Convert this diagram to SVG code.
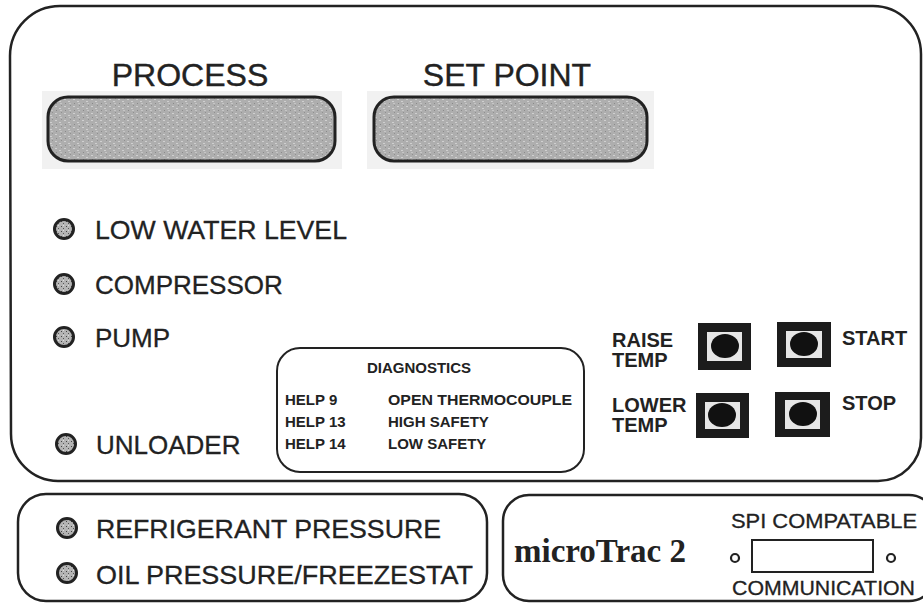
<svg xmlns="http://www.w3.org/2000/svg" width="923" height="605" viewBox="0 0 923 605">
<defs>
<pattern id="speckle" width="9" height="7" patternUnits="userSpaceOnUse">
<rect width="9" height="7" fill="#aeaeae"/>
<rect x="1" y="1" width="2" height="1" fill="#d0d0d0"/>
<rect x="5" y="3" width="2" height="1" fill="#cfcfcf"/>
<rect x="2" y="5" width="1" height="1" fill="#8a8a8a"/>
<rect x="7" y="0" width="1" height="1" fill="#909090"/>
<rect x="6" y="5" width="2" height="1" fill="#c6c6c6"/>
</pattern>
<pattern id="ledtex" width="5" height="5" patternUnits="userSpaceOnUse">
<rect width="5" height="5" fill="#b4b4b4"/>
<rect x="1" y="1" width="1" height="1" fill="#444"/>
<rect x="3" y="3" width="1" height="1" fill="#555"/>
<rect x="3" y="0" width="1" height="1" fill="#ddd"/>
</pattern>
</defs>
<style>
.frame{fill:none;stroke:#222;stroke-width:2.5}
.disp{fill:url(#speckle);stroke:#222;stroke-width:3}
.halo{fill:#f1f1f1}
.led{fill:url(#ledtex);stroke:#222;stroke-width:3}
.big{font-family:"Liberation Sans",Arial,sans-serif;font-size:26px;fill:#222;stroke:#222;stroke-width:0.3}
.title{font-family:"Liberation Sans",Arial,sans-serif;font-size:32px;fill:#222;stroke:#222;stroke-width:0.4}
.diag{font-family:"Liberation Sans",Arial,sans-serif;font-size:15px;font-weight:bold;fill:#222}
.btnl{font-family:"Liberation Sans",Arial,sans-serif;font-size:20px;font-weight:bold;fill:#222}
.small{font-family:"Liberation Sans",Arial,sans-serif;font-size:21px;fill:#222;stroke:#222;stroke-width:0.3}
.brand{font-family:"Liberation Serif","Times New Roman",serif;font-size:34px;font-weight:bold;fill:#222}
.btn{fill:#1c1c1c}
.btnin{fill:#e6e6e6}
.knob{fill:#111}
</style>
<rect width="923" height="605" fill="#fff"/>
<g id="main-panel">
<path class="frame" d="M10,56 A50,50 0 0 1 60,6 L873,6 A48,48 0 0 1 921,54 L921,438 A43,43 0 0 1 878,481 L58,481 A47,47 0 0 1 11,434 Z"/>
</g>
<g id="process">
<rect class="halo" x="42" y="91" width="300" height="78"/>
<text class="title" x="190" y="86" text-anchor="middle">PROCESS</text>
<rect class="disp" x="48" y="97" width="287" height="64" rx="20"/>
</g>
<g id="set-point">
<rect class="halo" x="367" y="91" width="287" height="78"/>
<text class="title" x="507" y="86" text-anchor="middle">SET POINT</text>
<rect class="disp" x="374" y="97" width="273" height="64" rx="20"/>
</g>
<g id="low-water-level">
<circle class="led" cx="64" cy="229" r="9.5"/>
<text class="big" x="95" y="239" textLength="252" lengthAdjust="spacingAndGlyphs">LOW WATER LEVEL</text>
</g>
<g id="compressor">
<circle class="led" cx="64" cy="284" r="9.5"/>
<text class="big" x="95" y="294">COMPRESSOR</text>
</g>
<g id="pump">
<circle class="led" cx="64" cy="337" r="9.5"/>
<text class="big" x="95" y="347">PUMP</text>
</g>
<g id="unloader">
<circle class="led" cx="66" cy="444" r="9.5"/>
<text class="big" x="96" y="454">UNLOADER</text>
</g>
<g id="diagnostics">
<rect class="frame" x="277" y="348" width="307" height="124" rx="23" style="stroke-width:2"/>
<text class="diag" x="419" y="373" text-anchor="middle">DIAGNOSTICS</text>
<text class="diag" x="285" y="405">HELP 9</text>
<text class="diag" x="388" y="405" textLength="184" lengthAdjust="spacingAndGlyphs">OPEN THERMOCOUPLE</text>
<text class="diag" x="285" y="427">HELP 13</text>
<text class="diag" x="388" y="427">HIGH SAFETY</text>
<text class="diag" x="285" y="449">HELP 14</text>
<text class="diag" x="388" y="449">LOW SAFETY</text>
</g>
<g id="raise-temp">
<text class="btnl" x="612" y="347">RAISE</text>
<text class="btnl" x="612" y="367">TEMP</text>
<rect class="btn" x="698" y="323" width="53" height="47"/>
<rect class="btnin" x="707" y="332" width="35" height="29"/>
<ellipse class="knob" cx="725" cy="346" rx="14" ry="12"/>
</g>
<g id="start">
<rect class="btn" x="777" y="322" width="54" height="45"/>
<rect class="btnin" x="786" y="331" width="36" height="27"/>
<ellipse class="knob" cx="804" cy="344" rx="14" ry="12"/>
<text class="btnl" x="842" y="345">START</text>
</g>
<g id="lower-temp">
<text class="btnl" x="612" y="412">LOWER</text>
<text class="btnl" x="612" y="432">TEMP</text>
<rect class="btn" x="696" y="393" width="53" height="45"/>
<rect class="btnin" x="705" y="402" width="35" height="27"/>
<ellipse class="knob" cx="722" cy="415" rx="14" ry="12"/>
</g>
<g id="stop">
<rect class="btn" x="775" y="392" width="55" height="45"/>
<rect class="btnin" x="785" y="400" width="35" height="29"/>
<ellipse class="knob" cx="803" cy="414" rx="14" ry="12"/>
<text class="btnl" x="842" y="410">STOP</text>
</g>
<g id="alarm-panel">
<rect class="frame" x="18" y="494" width="469" height="107" rx="28"/>
<circle class="led" cx="67" cy="528" r="9.5"/>
<text class="big" x="96" y="538" textLength="345" lengthAdjust="spacingAndGlyphs">REFRIGERANT PRESSURE</text>
<circle class="led" cx="67" cy="573" r="9.5"/>
<text class="big" x="96" y="584" textLength="377" lengthAdjust="spacingAndGlyphs">OIL PRESSURE/FREEZESTAT</text>
</g>
<g id="brand-panel">
<rect class="frame" x="503" y="495" width="432" height="106" rx="26"/>
<text class="brand" x="514" y="562" textLength="172" lengthAdjust="spacingAndGlyphs">microTrac 2</text>
<text class="small" x="731" y="528" textLength="186" lengthAdjust="spacingAndGlyphs">SPI COMPATABLE</text>
<circle cx="735" cy="558" r="4" fill="none" stroke="#222" stroke-width="2.2"/>
<rect x="752" y="540" width="121" height="32" fill="none" stroke="#222" stroke-width="2"/>
<circle cx="891" cy="558" r="4" fill="none" stroke="#222" stroke-width="2.2"/>
<text class="small" x="732" y="595" textLength="183" lengthAdjust="spacingAndGlyphs">COMMUNICATION</text>
</g>
</svg>
